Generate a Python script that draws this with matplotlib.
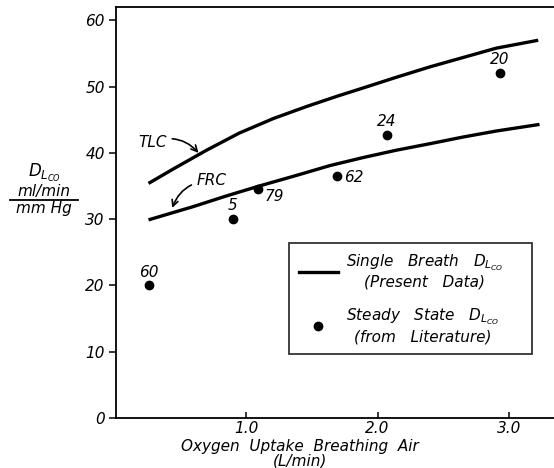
import matplotlib.pyplot as plt
from matplotlib.lines import Line2D

plt.rcParams['font.family'] = ['DejaVu Sans']
plt.rcParams['font.style'] = 'italic'
plt.rcParams['mathtext.fontset'] = 'custom'
plt.rcParams['mathtext.it'] = 'DejaVu Sans:italic'
plt.rcParams['mathtext.rm'] = 'DejaVu Sans:italic'

# single breath DLco curves (present data)
tlc_x = [0.26, 0.45, 0.70, 0.95, 1.21, 1.46, 1.70, 1.89, 2.14, 2.40, 2.65, 2.90, 3.22]
tlc_y = [35.4, 37.6, 40.4, 43.0, 45.2, 47.0, 48.6, 49.8, 51.4, 53.0, 54.4, 55.8, 57.0]
frc_x = [0.26, 0.60, 0.85, 1.10, 1.40, 1.64, 1.89, 2.14, 2.40, 2.65, 2.90, 3.23]
frc_y = [29.9, 31.9, 33.5, 35.0, 36.7, 38.1, 39.3, 40.4, 41.4, 42.4, 43.3, 44.3]

# steady state DLco from literature, labelled by reference number
pt_x = [0.26, 0.90, 1.09, 1.69, 2.07, 2.93]
pt_y = [20.0, 30.1, 34.5, 36.5, 42.7, 52.1]
pt_ref = ['60', '5', '79', '62', '24', '20']
# label offsets in points (dx, dy, ha)
pt_off = [(0, 4, 'center'), (0, 4, 'center'), (5, -5, 'left'),
          (5, -1, 'left'), (0, 4, 'center'), (0, 4, 'center')]

fig = plt.figure(figsize=(5.54, 4.68), dpi=100)
ax = fig.add_axes([0.2094, 0.1068, 0.7906, 0.878])

ax.plot(tlc_x, tlc_y, color='black', lw=2.4, solid_capstyle='butt')
ax.plot(frc_x, frc_y, color='black', lw=2.4, solid_capstyle='butt')
ax.plot(pt_x, pt_y, 'o', color='black', ms=6)

for x, y, s, (dx, dy, ha) in zip(pt_x, pt_y, pt_ref, pt_off):
    ax.annotate(s, (x, y), xytext=(dx, dy), textcoords='offset points',
                ha=ha, va='bottom' if dy > 0 else 'center', fontsize=11)

ax.annotate('TLC', xy=(0.64, 40.0), xytext=(0.29, 41.6), fontsize=11,
            ha='center', va='center',
            arrowprops=dict(arrowstyle='->', color='black', lw=1.2,
                            connectionstyle='arc3,rad=-0.35',
                            shrinkA=2, shrinkB=0))
ax.annotate('FRC', xy=(0.44, 31.7), xytext=(0.74, 35.8), fontsize=11,
            ha='center', va='center',
            arrowprops=dict(arrowstyle='->', color='black', lw=1.2,
                            connectionstyle='arc3,rad=0.35',
                            shrinkA=2, shrinkB=0))

ax.set_xlim(0.013, 3.34)
ax.set_ylim(0, 62)
ax.set_xticks([1.0, 2.0, 3.0])
ax.set_xticklabels(['1.0', '2.0', '3.0'])
ax.set_yticks([0, 10, 20, 30, 40, 50, 60])
ax.tick_params(axis='y', direction='out', length=5, width=1.1, labelsize=11, pad=3)
ax.tick_params(axis='x', direction='in', length=4, width=1.1, labelsize=11, pad=2)
ax.spines['right'].set_visible(False)
for s in ['left', 'top', 'bottom']:
    ax.spines[s].set_linewidth(1.3)

ax.set_xlabel('Oxygen  Uptake  Breathing  Air\n(L/min)', fontsize=11,
              labelpad=0, linespacing=0.95)
ax.xaxis.set_label_coords(0.42, -0.052)
ax.xaxis.label.set_verticalalignment('top')

# y label as a little fraction
fig.text(0.080, 0.630, r'$D_{L_{CO}}$', ha='center', va='center', fontsize=12)
fig.text(0.080, 0.591, 'ml/min', ha='center', va='center', fontsize=11)
fig.text(0.080, 0.555, 'mm Hg', ha='center', va='center', fontsize=11)
fig.add_artist(Line2D([0.018, 0.141], [0.573, 0.573], color='black', lw=1.3))

handles = [Line2D([], [], color='black', lw=2.4),
           Line2D([], [], marker='o', ls='none', color='black', ms=6)]
labels = ['Single   Breath   $D_{L_{CO}}$\n(Present   Data)',
          'Steady   State   $D_{L_{CO}}$\n(from   Literature)']
leg = ax.legend(handles, labels, loc='lower left',
                bbox_to_anchor=(0.396, 0.156, 0.553, 0.267), mode='expand',
                frameon=True, fancybox=False, edgecolor='black', fontsize=11,
                handlelength=2.6, handletextpad=0.5, labelspacing=1.1,
                borderpad=0.6, borderaxespad=0)
leg.get_frame().set_linewidth(1.3)
for t in leg.get_texts():
    t.set_multialignment('center')

fig.savefig('out.png', dpi=100)
